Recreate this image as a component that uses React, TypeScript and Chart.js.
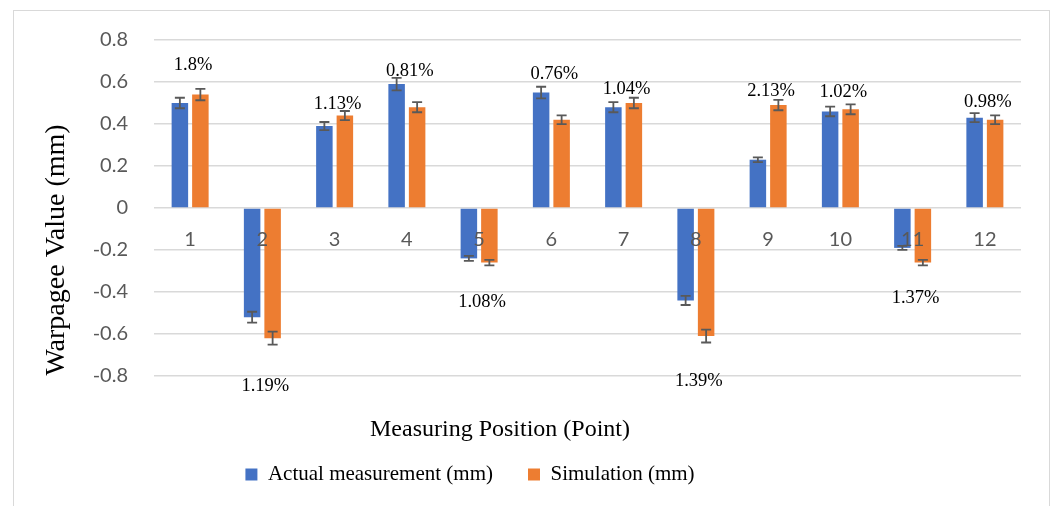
import React, { useEffect, useRef } from 'react';
import { Chart, registerables } from 'chart.js';

Chart.register(...registerables);

const categories = ['1', '2', '3', '4', '5', '6', '7', '8', '9', '10', '11', '12'];
const actualMeasurement = [0.5, -0.52, 0.39, 0.59, -0.24, 0.55, 0.48, -0.44, 0.23, 0.46, -0.19, 0.43];
const simulationValues = [0.54, -0.62, 0.44, 0.48, -0.26, 0.42, 0.5, -0.61, 0.49, 0.47, -0.26, 0.42];
const actualError = [0.025, 0.026, 0.0195, 0.0295, 0.012, 0.0275, 0.024, 0.022, 0.0115, 0.023, 0.0095, 0.0215];
const simulationError = [0.027, 0.031, 0.022, 0.024, 0.013, 0.021, 0.025, 0.0305, 0.0245, 0.0235, 0.013, 0.021];
const deviationLabels = ['1.8%', '1.19%', '1.13%', '0.81%', '1.08%', '0.76%', '1.04%', '1.39%', '2.13%', '1.02%', '1.37%', '0.98%'];
const deviationLevels = [0.68, -0.85, 0.495, 0.652, -0.446, 0.638, 0.565, -0.824, 0.557, 0.551, -0.43, 0.506];
const yTickValues = [-0.8, -0.6, -0.4, -0.2, 0, 0.2, 0.4, 0.6, 0.8];

const seriesNames = ['Actual measurement (mm)', 'Simulation (mm)'];
const xTitle = 'Measuring Position (Point)';
const yTitle = 'Warpagee Value (mm)';

const SERIF = "'Liberation Serif', serif";

const framePlugin = {
  id: 'frame',
  beforeDraw(chart: any) {
    const ctx = chart.ctx;
    ctx.save();
    ctx.strokeStyle = '#d9d9d9';
    ctx.lineWidth = 1;
    ctx.strokeRect(13.5, 10.5, 1036, 520);
    ctx.restore();
  },
};

const errorBarPlugin = {
  id: 'errorBars',
  afterDatasetsDraw(chart: any) {
    const ctx = chart.ctx;
    const yScale = chart.scales.y;
    const errors = [actualError, simulationError];
    ctx.save();
    ctx.strokeStyle = '#595959';
    ctx.lineWidth = 1.8;
    chart.data.datasets.forEach((ds: any, d: number) => {
      const meta = chart.getDatasetMeta(d);
      meta.data.forEach((el: any, i: number) => {
        const v = ds.data[i];
        const e = errors[d][i];
        const x = el.x;
        const yA = yScale.getPixelForValue(v + e);
        const yB = yScale.getPixelForValue(v - e);
        ctx.beginPath();
        ctx.moveTo(x, yA);
        ctx.lineTo(x, yB);
        ctx.moveTo(x - 5, yA);
        ctx.lineTo(x + 5, yA);
        ctx.moveTo(x - 5, yB);
        ctx.lineTo(x + 5, yB);
        ctx.stroke();
      });
    });
    ctx.restore();
  },
};

const annotationPlugin = {
  id: 'annotations',
  afterDraw(chart: any) {
    const ctx = chart.ctx;
    const xScale = chart.scales.x;
    const yScale = chart.scales.y;
    ctx.save();
    ctx.fillStyle = '#000';
    ctx.font = `18.5px ${SERIF}`;
    ctx.textAlign = 'center';
    ctx.textBaseline = 'middle';
    deviationLabels.forEach((t, i) => {
      const x = xScale.getPixelForValue(i) + 3;
      const y = yScale.getPixelForValue(deviationLevels[i]);
      ctx.fillText(t, x, y);
    });
    // x axis title
    ctx.font = `24px ${SERIF}`;
    ctx.fillText(xTitle, 500, 430);
    // y axis title
    ctx.translate(57, 250);
    ctx.rotate(-Math.PI / 2);
    ctx.font = `28px ${SERIF}`;
    ctx.fillText(yTitle, 0, 0);
    ctx.restore();
  },
};

export default function App() {
  const canvasRef = useRef<HTMLCanvasElement | null>(null);

  useEffect(() => {
    if (!canvasRef.current) return;
    const chart = new Chart(canvasRef.current, {
      type: 'bar',
      data: {
        labels: categories,
        datasets: [
          {
            label: seriesNames[0],
            data: actualMeasurement,
            backgroundColor: '#4472c4',
            barPercentage: 0.805,
            categoryPercentage: 0.5675,
          },
          {
            label: seriesNames[1],
            data: simulationValues,
            backgroundColor: '#ed7d31',
            barPercentage: 0.805,
            categoryPercentage: 0.5675,
          },
        ],
      },
      options: {
        responsive: false,
        animation: false,
        devicePixelRatio: 1,
        layout: { padding: { left: -81, right: 33, top: 40, bottom: 11 } },
        plugins: {
          legend: {
            position: 'bottom',
            labels: {
              boxWidth: 12,
              boxHeight: 12,
              padding: 35,
              color: '#000',
              font: { family: SERIF, size: 21 },
            },
          },
          tooltip: { enabled: false },
          title: { display: false },
        },
        scales: {
          x: {
            grid: { display: false, drawTicks: false },
            border: { display: false },
            ticks: {
              z: 1,
              mirror: true,
              padding: 124,
              color: '#595959',
              font: { family: 'Lato', size: 20 },
              maxRotation: 0,
              autoSkip: false,
            },
            afterFit: (s: any) => {
              s.height = 53;
              s.paddingLeft = 0;
              s.paddingRight = 0;
            },
          },
          y: {
            min: yTickValues[0],
            max: yTickValues[yTickValues.length - 1],
            afterBuildTicks: (s: any) => {
              s.ticks = yTickValues.map((v) => ({ value: v }));
            },
            ticks: {
              padding: 26,
              color: '#595959',
              font: { family: 'Lato', size: 20 },
              callback: (v: any) => {
                const n = Math.round(Number(v) * 10) / 10;
                return n === 0 ? '0' : n.toFixed(1);
              },
            },
            grid: { color: '#d9d9d9', lineWidth: 1.5, drawTicks: false },
            border: { display: false },
            afterFit: (s: any) => {
              s.width = 235;
            },
          },
        },
      } as any,
      plugins: [framePlugin, errorBarPlugin, annotationPlugin],
    });
    return () => chart.destroy();
  }, []);

  return (
    <div style={{ position: 'absolute', left: 0, top: 0, width: 1054, height: 506, background: '#fff' }}>
      <canvas ref={canvasRef} width={1054} height={506} style={{ display: 'block' }} />
    </div>
  );
}
